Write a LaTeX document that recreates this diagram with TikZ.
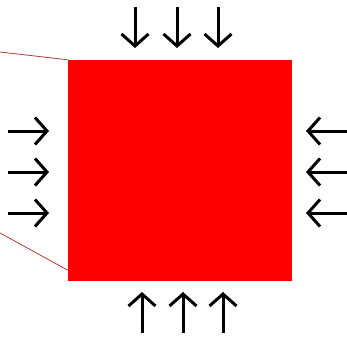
\documentclass[tikz,border=0pt]{standalone}
\usepackage{tikz}
\usetikzlibrary{arrows.meta}
\definecolor{SqRed}{HTML}{FF0000}
\definecolor{EdgeRed}{HTML}{B03A3A}

\begin{document}
\begin{tikzpicture}[x=1pt,y=-1pt,
    load/.style={line width=3pt,-{Straight Barb[length=12pt,width=27pt]}}]
    \useasboundingbox (0,0) rectangle (347,340);
    \node[fill=SqRed,inner sep=0pt,minimum width=224pt,minimum height=221pt] (block) at (180,170.5) {};
    % edges to the left side
    \coordinate (upleft) at (0,52);
    \coordinate (lowleft) at (0,233);
    \draw[EdgeRed,line width=0.8pt] (upleft) -- (block.north west);
    \draw[EdgeRed,line width=0.8pt] (lowleft) -- ([yshift=11pt]block.south west);
    % loads
    \foreach \x in {135,177,218} \draw[load] (\x,7) -- (\x,48);
    \foreach \x in {142,183,223} \draw[load] (\x,333) -- (\x,292);
    \foreach \y in {131,172,213} \draw[load] (8,\y) -- (49,\y);
    \foreach \y in {131,172,213} \draw[load] (347,\y) -- (306,\y);
  \end{tikzpicture}
\end{document}
